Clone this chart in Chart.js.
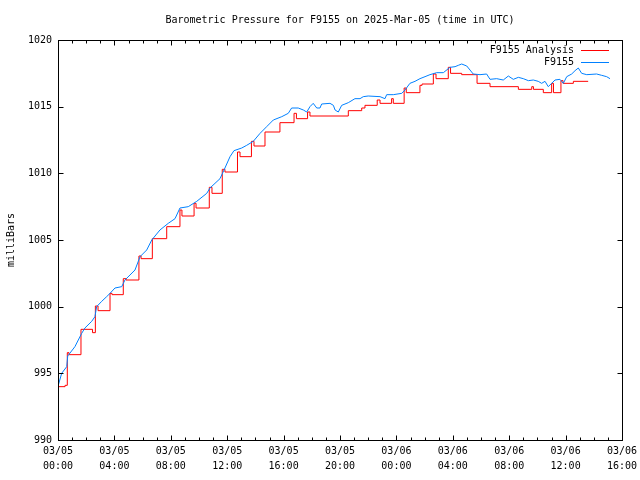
<!DOCTYPE html>
<html>
<head>
<meta charset="utf-8">
<script src="https://cdn.jsdelivr.net/npm/chart.js@4/dist/chart.umd.min.js"></script>
<style>
  body { margin: 0; background: #fff; }
  canvas { display: block; }
</style>
</head>
<body>
<canvas id="pressureChart" width="640" height="480"></canvas>
<script>
// hours since 03/05 00:00 UTC
const obsHours = [0.02, 0.26, 0.62, 0.69, 1.2, 1.68, 1.91, 2.39, 2.62, 2.74,
    3.1, 3.45, 3.69, 4.04, 4.52, 4.75, 5.46, 5.82, 6.29, 6.65,
    7.23, 7.82, 8.3, 8.65, 9.24, 9.84, 10.55, 10.78, 11.49, 11.84,
    12.2, 12.48, 13.03, 13.38, 13.85, 14.33, 14.8, 15.27, 15.87, 16.33,
    16.57, 17.04, 17.4, 17.64, 17.87, 18.1, 18.35, 18.58, 18.7, 19.29,
    19.53, 19.65, 19.88, 20.12, 20.59, 21.06, 21.42, 21.65, 22.0, 22.84,
    23.19, 23.31, 23.78, 24.38, 24.61, 24.96, 25.32, 25.67, 26.03, 26.38,
    26.86, 27.33, 27.8, 28.16, 28.39, 28.63, 28.99, 29.22, 29.45, 29.93,
    30.4, 30.64, 31.11, 31.58, 31.94, 32.29, 32.65, 33.0, 33.36, 33.71,
    34.06, 34.3, 34.54, 34.77, 35.01, 35.25, 35.6, 35.84, 36.08, 36.43,
    36.67, 36.9, 37.14, 37.5, 38.2, 38.56, 38.91, 39.15];
const obsValues = [994.1, 995.0, 995.5, 996.3, 997.0, 998.0, 998.4, 998.9, 999.25, 1000.0,
    1000.4, 1000.75, 1001.0, 1001.4, 1001.5, 1002.0, 1002.75, 1003.75, 1004.25, 1005.0,
    1005.75, 1006.25, 1006.6, 1007.4, 1007.5, 1007.9, 1008.5, 1008.9, 1009.6, 1010.4,
    1011.25, 1011.7, 1011.9, 1012.1, 1012.4, 1013.0, 1013.5, 1014.0, 1014.25, 1014.5,
    1014.9, 1014.9, 1014.75, 1014.6, 1015.0, 1015.25, 1014.9, 1014.9, 1015.2, 1015.25,
    1015.1, 1014.75, 1014.6, 1015.1, 1015.3, 1015.6, 1015.6, 1015.75, 1015.8, 1015.75,
    1015.6, 1015.9, 1015.9, 1016.0, 1016.25, 1016.75, 1016.9, 1017.1, 1017.25, 1017.4,
    1017.55, 1017.55, 1017.95, 1018.0, 1018.1, 1018.2, 1018.05, 1017.75, 1017.45, 1017.4,
    1017.45, 1017.05, 1017.1, 1017.0, 1017.3, 1017.05, 1017.2, 1017.1, 1016.95, 1017.0,
    1016.9, 1016.75, 1016.9, 1016.5, 1016.75, 1017.0, 1017.05, 1016.75, 1017.25, 1017.45,
    1017.7, 1017.9, 1017.5, 1017.4, 1017.45, 1017.35, 1017.25, 1017.1];

const anaHours = [0.02, 0.5, 0.66, 0.78, 1.63, 2.45, 2.65, 2.84, 3.69, 3.83,
    4.63, 4.82, 5.74, 5.89, 6.69, 7.71, 8.65, 8.79, 9.65, 9.79,
    10.73, 10.92, 11.65, 11.84, 12.73, 12.91, 13.72, 13.9, 14.68, 15.74,
    16.74, 16.91, 17.7, 17.87, 20.59, 21.54, 21.77, 22.64, 22.84, 23.66,
    23.78, 24.55, 24.7, 25.67, 25.82, 26.62, 26.81, 27.68, 27.84, 28.63,
    29.72, 30.64, 32.65, 33.6, 33.72, 34.42, 35.01, 35.14, 35.67, 35.82,
    36.55, 37.6];
const anaValues = [994.0, 994.1, 996.55, 996.4, 998.3, 998.05, 1000.05, 999.7, 1001.0, 1000.9,
    1002.1, 1002.0, 1003.8, 1003.6, 1005.1, 1006.0, 1007.25, 1006.8, 1007.75, 1007.4,
    1008.95, 1008.5, 1010.3, 1010.1, 1011.6, 1011.25, 1012.4, 1012.05, 1013.1, 1013.8,
    1014.5, 1014.1, 1014.6, 1014.3, 1014.7, 1014.9, 1015.1, 1015.5, 1015.25, 1015.6,
    1015.25, 1016.4, 1016.05, 1016.6, 1016.7, 1017.45, 1017.1, 1017.95, 1017.5, 1017.4,
    1016.75, 1016.5, 1016.3, 1016.5, 1016.3, 1016.05, 1016.75, 1016.05, 1016.95, 1016.75,
    1016.9, 1016.9];

const tickDates = ['03/05', '03/05', '03/05', '03/05', '03/05', '03/05', '03/06', '03/06', '03/06', '03/06', '03/06'];
const tickTimes = ['00:00', '04:00', '08:00', '12:00', '16:00', '20:00', '00:00', '04:00', '08:00', '12:00', '16:00'];

const FONT = 'DejaVu Sans Mono';

function toPoints(hours, values) {
    return hours.map((h, i) => ({ x: h, y: values[i] }));
}

// gnuplot style frame: box all round, ticks pointing in, legend top right
const gnuFrame = {
    id: 'gnuFrame',
    afterDatasetsDraw(chart) {
        const { ctx, chartArea: a, scales: { x, y } } = chart;
        const L = Math.round(a.left) + 0.5;
        const R = Math.round(a.right) + 0.5;
        const T = Math.round(a.top) + 0.5;
        const B = Math.round(a.bottom) + 0.5;
        ctx.save();
        ctx.strokeStyle = '#000';
        ctx.lineWidth = 1;
        ctx.strokeRect(L, T, R - L, B - T);
        ctx.beginPath();
        for (let h = x.min; h <= x.max; h++) {
            const px = Math.round(x.getPixelForValue(h)) + 0.5;
            const len = h % 4 === 0 ? 5 : 3;
            ctx.moveTo(px, B); ctx.lineTo(px, B - len);
            ctx.moveTo(px, T); ctx.lineTo(px, T + len);
        }
        y.ticks.forEach(t => {
            const py = Math.round(y.getPixelForValue(t.value)) + 0.5;
            ctx.moveTo(L, py); ctx.lineTo(L + 5, py);
            ctx.moveTo(R, py); ctx.lineTo(R - 5, py);
        });
        ctx.stroke();

        ctx.font = '10px "' + FONT + '"';
        ctx.fillStyle = '#000';
        ctx.textAlign = 'right';
        ctx.textBaseline = 'middle';
        chart.data.datasets.forEach((ds, i) => {
            const ly = Math.round(a.top) + 10 + i * 12;
            ctx.fillText(ds.label, a.right - 48, ly);
            ctx.strokeStyle = ds.borderColor;
            ctx.beginPath();
            ctx.moveTo(a.right - 41, ly + 0.5);
            ctx.lineTo(a.right - 13, ly + 0.5);
            ctx.stroke();
        });
        ctx.restore();
    }
};

new Chart(document.getElementById('pressureChart'), {
    type: 'line',
    data: {
        datasets: [{
            label: 'F9155 Analysis',
            data: toPoints(anaHours, anaValues),
            borderColor: '#ff0000',
            borderWidth: 1,
            pointRadius: 0,
            stepped: 'before',
            order: 2
        }, {
            label: 'F9155',
            data: toPoints(obsHours, obsValues),
            borderColor: '#0080ff',
            borderWidth: 1,
            pointRadius: 0,
            tension: 0,
            order: 1
        }]
    },
    options: {
        responsive: false,
        animation: false,
        layout: { padding: { top: 0, right: 18, bottom: 0, left: 0 } },
        plugins: {
            legend: { display: false },
            tooltip: { enabled: false },
            title: {
                display: true,
                fullSize: false,
                text: 'Barometric Pressure for F9155 on 2025-Mar-05 (time in UTC)',
                color: '#000',
                font: { family: FONT, size: 10, weight: 'normal', lineHeight: 1.2 },
                padding: { top: 14, bottom: 14 }
            }
        },
        scales: {
            x: {
                type: 'linear',
                min: 0,
                max: 40,
                grid: { display: false, drawTicks: false },
                border: { display: false },
                ticks: {
                    stepSize: 4,
                    autoSkip: false,
                    maxRotation: 0,
                    padding: 4,
                    color: '#000',
                    font: { family: FONT, size: 10, lineHeight: 1.5 },
                    callback: (v) => [tickDates[v / 4], tickTimes[v / 4]]
                },
                afterFit(scale) {
                    scale.height = 40;
                    scale.paddingLeft = 0;
                    scale.paddingRight = 0;
                }
            },
            y: {
                min: 990,
                max: 1020,
                grid: { display: false, drawTicks: false },
                border: { display: false },
                ticks: {
                    stepSize: 5,
                    padding: 6,
                    color: '#000',
                    font: { family: FONT, size: 10 },
                    callback: (v) => String(v)
                },
                title: {
                    display: true,
                    text: 'milliBars',
                    color: '#000',
                    font: { family: FONT, size: 10, lineHeight: 1.2 },
                    padding: { top: 5, bottom: 0 }
                },
                afterFit(scale) {
                    scale.width = 58;
                    scale.paddingTop = 0;
                    scale.paddingBottom = 0;
                }
            }
        }
    },
    plugins: [gnuFrame]
});
</script>
</body>
</html>
